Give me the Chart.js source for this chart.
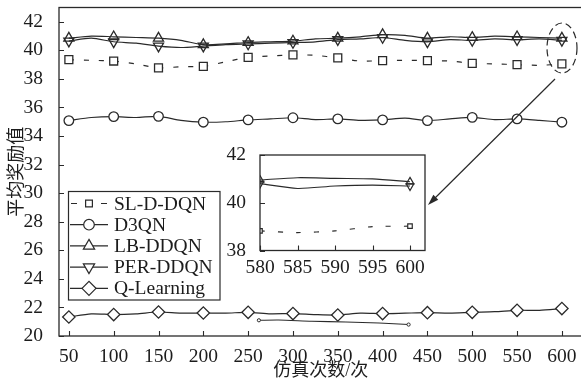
<!DOCTYPE html>
<html>
<head>
<meta charset="utf-8">
<script src="https://cdn.jsdelivr.net/npm/chart.js@4.4.1/dist/chart.umd.min.js"></script>
<style>
  html, body { margin: 0; padding: 0; background: #fff; overflow: hidden; }
  #wrap { position: relative; width: 581px; height: 389px; overflow: hidden; background: #fff; }
  #main { position: absolute; left: 0; top: 0; }
  #inset { position: absolute; left: 220px; top: 145px; }
</style>
</head>
<body>
<div id="wrap">
  <canvas id="main" width="590" height="389"></canvas>
  <canvas id="inset" width="215" height="135"></canvas>
</div>
<script>
// ---- data: average reward per simulation run ----
const xTicks = [50, 100, 150, 200, 250, 300, 350, 400, 450, 500, 550, 600];
const yTicks = [20, 22, 24, 26, 28, 30, 32, 34, 36, 38, 40, 42];
const runs = [50, 75, 100, 125, 150, 175, 200, 225, 250, 275, 300, 325, 350,
              375, 400, 425, 450, 475, 500, 525, 550, 575, 600];

const slddqn = [39.35, 39.3, 39.25, 39.05, 38.77, 38.85, 38.88, 39.2, 39.51, 39.6, 39.68, 39.65, 39.47,
                39.25, 39.28, 39.3, 39.28, 39.25, 39.09, 39.05, 39.0, 38.95, 39.05];
const d3qn = [35.08, 35.3, 35.36, 35.3, 35.38, 35.1, 34.97, 35.0, 35.13, 35.2, 35.28, 35.15, 35.2,
              35.1, 35.13, 35.25, 35.08, 35.2, 35.31, 35.15, 35.2, 35.1, 34.97];
const lbddqn = [40.85, 41.0, 40.95, 40.9, 40.85, 40.7, 40.4, 40.45, 40.55, 40.6, 40.65, 40.8, 40.85,
                40.95, 41.1, 41.05, 40.85, 40.95, 40.9, 41.0, 40.95, 40.9, 40.85];
const perddqn = [40.65, 40.85, 40.6, 40.5, 40.3, 40.2, 40.3, 40.4, 40.45, 40.5, 40.55, 40.6, 40.75,
                 40.8, 40.9, 40.7, 40.6, 40.75, 40.7, 40.8, 40.75, 40.8, 40.7];
const qlearning = [21.33, 21.55, 21.5, 21.55, 21.68, 21.6, 21.61, 21.6, 21.66, 21.55, 21.57, 21.5, 21.47,
                   21.6, 21.57, 21.6, 21.63, 21.6, 21.66, 21.7, 21.8, 21.8, 21.92];

// short unlabeled trace near the bottom
const traceRuns = [262, 284, 321, 359, 396, 429];
const traceVals = [21.1, 21.12, 21.03, 20.98, 20.91, 20.8];

// ---- zoomed view of runs 580-600 ----
const zoomXTicks = [580, 585, 590, 595, 600];
const zoomYTicks = [38, 40, 42];
const zoomRuns = [580, 585, 590, 595, 600];
const zoomSL = [38.82, 38.75, 38.82, 39.0, 39.02];
const zoomLB = [40.95, 41.05, 41.02, 41.0, 40.88];
const zoomPER = [40.8, 40.6, 40.7, 40.74, 40.7];

const FONT = "'Liberation Serif', 'Noto Sans CJK SC', serif";
const INK = '#2a2a2a';
const TXT = '#1c1c1c';

const pts = (xs, ys) => xs.map((x, i) => ({ x: x, y: ys[i] }));
const onEvery = (step, r) => (c) => (c.raw && c.raw.x % step === 0 ? r : 0);
const onEnds = (a, b, r) => (c) => (c.raw && (c.raw.x === a || c.raw.x === b) ? r : 0);

// frame + inward tick marks
const framePlugin = {
  id: 'frame',
  afterDatasetsDraw(chart, args, opts) {
    const { ctx, chartArea: a } = chart;
    const xs = chart.scales.x, ys = chart.scales.y;
    ctx.save();
    ctx.strokeStyle = INK;
    ctx.lineWidth = 1.3;
    ctx.setLineDash([]);
    ctx.strokeRect(a.left, a.top, a.right - a.left, a.bottom - a.top);
    ctx.lineWidth = 1.1;
    ctx.beginPath();
    xs.ticks.forEach(t => {
      const p = Math.round(xs.getPixelForValue(t.value)) + 0.5;
      ctx.moveTo(p, a.bottom);
      ctx.lineTo(p, a.bottom - opts.len);
    });
    ys.ticks.forEach(t => {
      const p = Math.round(ys.getPixelForValue(t.value)) + 0.5;
      ctx.moveTo(a.left, p);
      ctx.lineTo(a.left + opts.len, p);
    });
    ctx.stroke();
    ctx.restore();
  }
};

const whiteArea = {
  id: 'whiteArea',
  beforeDraw(chart) {
    const { ctx, chartArea: a } = chart;
    ctx.save();
    ctx.fillStyle = '#fff';
    ctx.fillRect(a.left, a.top, a.right - a.left, a.bottom - a.top);
    ctx.restore();
  }
};

// boxed legend with line sample and marker
const boxLegend = {
  id: 'boxLegend',
  afterDraw(chart) {
    const { ctx } = chart;
    const items = chart.data.datasets.filter(d => d.label);
    const bx = 68.5, by = 191.5, bw = 151.5, bh = 108.5;
    ctx.save();
    ctx.fillStyle = '#fff';
    ctx.fillRect(bx, by, bw, bh);
    ctx.strokeStyle = INK;
    ctx.lineWidth = 1.2;
    ctx.strokeRect(bx, by, bw, bh);
    items.forEach((d, i) => {
      const y = 203.5 + i * 21.2;
      ctx.strokeStyle = INK;
      ctx.lineWidth = 1.2;
      ctx.setLineDash([]);
      ctx.beginPath();
      if (d.borderDash && d.borderDash.length) {
        ctx.moveTo(71, y); ctx.lineTo(77, y);
        ctx.moveTo(101, y); ctx.lineTo(107, y);
      } else {
        ctx.moveTo(70, y); ctx.lineTo(108, y);
      }
      ctx.stroke();
      ctx.fillStyle = '#fff';
      ctx.strokeStyle = INK;
      Chart.helpers.drawPoint(ctx, {
        pointStyle: d.pointStyle,
        rotation: d.pointRotation || 0,
        radius: d.legendRadius,
        borderWidth: 1.3
      }, 89, y);
      ctx.fillStyle = TXT;
      ctx.font = '19.5px ' + FONT;
      ctx.textBaseline = 'middle';
      ctx.textAlign = 'left';
      ctx.fillText(d.label, 114, y + 1);
    });
    ctx.restore();
  }
};

// dashed ring around the last runs, and an arrow to the zoomed view
const calloutPlugin = {
  id: 'callout',
  afterDraw(chart) {
    const { ctx } = chart;
    ctx.save();
    ctx.strokeStyle = INK;
    ctx.lineWidth = 1.2;
    ctx.setLineDash([7, 4]);
    ctx.beginPath();
    ctx.ellipse(562, 48, 15, 25, 0, 0, Math.PI * 2);
    ctx.stroke();
    ctx.setLineDash([]);
    const x0 = 555, y0 = 79, x1 = 428, y1 = 205;
    const ang = Math.atan2(y1 - y0, x1 - x0);
    ctx.beginPath();
    ctx.moveTo(x0, y0);
    ctx.lineTo(x1 - Math.cos(ang) * 6, y1 - Math.sin(ang) * 6);
    ctx.stroke();
    ctx.fillStyle = INK;
    ctx.beginPath();
    ctx.moveTo(x1, y1);
    ctx.lineTo(x1 - Math.cos(ang) * 11 + Math.sin(ang) * 3.5, y1 - Math.sin(ang) * 11 - Math.cos(ang) * 3.5);
    ctx.lineTo(x1 - Math.cos(ang) * 11 - Math.sin(ang) * 3.5, y1 - Math.sin(ang) * 11 + Math.cos(ang) * 3.5);
    ctx.closePath();
    ctx.fill();
    ctx.restore();
  }
};

const lineBase = {
  borderColor: INK,
  borderWidth: 1.2,
  tension: 0.25,
  pointBorderColor: INK,
  pointBorderWidth: 1.3,
  pointHoverRadius: 0
};

new Chart(document.getElementById('main'), {
  type: 'line',
  data: {
    datasets: [
      Object.assign({}, lineBase, {
        label: 'SL-D-DQN', data: pts(runs, slddqn), borderDash: [5, 10],
        pointStyle: 'rect', pointRadius: onEvery(50, 5.6), pointBackgroundColor: '#fff', legendRadius: 4.8
      }),
      Object.assign({}, lineBase, {
        label: 'D3QN', data: pts(runs, d3qn),
        pointStyle: 'circle', pointRadius: onEvery(50, 4.8), pointBackgroundColor: '#fff', legendRadius: 5.3
      }),
      Object.assign({}, lineBase, {
        label: 'LB-DDQN', data: pts(runs, lbddqn),
        pointStyle: 'triangle', pointRadius: onEvery(50, 5.8), pointBackgroundColor: 'rgba(255,255,255,0)', legendRadius: 6.5
      }),
      Object.assign({}, lineBase, {
        label: 'PER-DDQN', data: pts(runs, perddqn),
        pointStyle: 'triangle', pointRotation: 180, pointRadius: onEvery(50, 5.8), pointBackgroundColor: 'rgba(255,255,255,0)', legendRadius: 6.5
      }),
      Object.assign({}, lineBase, {
        label: 'Q-Learning', data: pts(runs, qlearning),
        pointStyle: 'rectRot', pointRadius: onEvery(50, 6.2), pointBackgroundColor: '#fff', legendRadius: 7
      }),
      Object.assign({}, lineBase, {
        label: '', data: pts(traceRuns, traceVals), borderWidth: 1.1,
        pointStyle: 'circle', pointRadius: onEnds(262, 429, 1.6), pointBackgroundColor: '#fff', pointBorderWidth: 1
      })
    ]
  },
  options: {
    responsive: false,
    animation: false,
    events: [],
    layout: { padding: { top: 6, right: 5, left: 0, bottom: 0 } },
    plugins: { legend: { display: false }, tooltip: { enabled: false }, frame: { len: 5 } },
    scales: {
      x: {
        type: 'linear', min: 39, max: 623,
        grid: { display: false }, border: { display: false },
        afterBuildTicks: s => { s.ticks = xTicks.map(v => ({ value: v })); },
        afterFit: s => { s.height = 53; s.paddingLeft = 0; s.paddingRight = 0; },
        ticks: { autoSkip: false, maxRotation: 0, padding: 1, color: TXT, font: { family: FONT, size: 19.5 } },
        title: { display: true, text: '仿真次数/次', color: TXT, font: { family: FONT, size: 18 }, padding: { top: 0, bottom: 7 } }
      },
      y: {
        type: 'linear', min: 20, max: 43,
        grid: { display: false }, border: { display: false },
        afterBuildTicks: s => { s.ticks = yTicks.map(v => ({ value: v })); },
        afterFit: s => { s.width = 59; s.paddingTop = 0; s.paddingBottom = 0; },
        ticks: { padding: 8, color: TXT, font: { family: FONT, size: 19.5 } },
        title: { display: true, text: '平均奖励值', color: TXT, font: { family: FONT, size: 18 }, padding: { top: 6, bottom: 0 } }
      }
    }
  },
  plugins: [framePlugin, boxLegend, calloutPlugin]
});

new Chart(document.getElementById('inset'), {
  type: 'line',
  data: {
    datasets: [
      Object.assign({}, lineBase, {
        label: 'SL-D-DQN', data: pts(zoomRuns, zoomSL), borderDash: [5, 13], borderWidth: 1.1,
        pointStyle: 'rect', pointRadius: onEnds(580, 600, 3.2), pointBackgroundColor: '#fff', pointBorderWidth: 1.2
      }),
      Object.assign({}, lineBase, {
        label: 'LB-DDQN', data: pts(zoomRuns, zoomLB), borderWidth: 1.1,
        pointStyle: 'triangle', pointRadius: onEnds(580, 600, 4.4), pointBackgroundColor: 'rgba(255,255,255,0)', pointBorderWidth: 1.2
      }),
      Object.assign({}, lineBase, {
        label: 'PER-DDQN', data: pts(zoomRuns, zoomPER), borderWidth: 1.1,
        pointStyle: 'triangle', pointRotation: 180, pointRadius: onEnds(580, 600, 4.4), pointBackgroundColor: 'rgba(255,255,255,0)', pointBorderWidth: 1.2
      })
    ]
  },
  options: {
    responsive: false,
    animation: false,
    events: [],
    layout: { padding: { top: 10, right: 10, left: 0, bottom: 0 } },
    plugins: { legend: { display: false }, tooltip: { enabled: false }, frame: { len: 5 } },
    scales: {
      x: {
        type: 'linear', min: 580, max: 602,
        grid: { display: false }, border: { display: false },
        afterBuildTicks: s => { s.ticks = zoomXTicks.map(v => ({ value: v })); },
        afterFit: s => { s.height = 29.5; s.paddingLeft = 0; s.paddingRight = 0; },
        ticks: { autoSkip: false, maxRotation: 0, padding: -2, color: TXT, font: { family: FONT, size: 19.5 } }
      },
      y: {
        type: 'linear', min: 38, max: 42,
        grid: { display: false }, border: { display: false },
        afterBuildTicks: s => { s.ticks = zoomYTicks.map(v => ({ value: v })); },
        afterFit: s => { s.width = 40; s.paddingTop = 0; s.paddingBottom = 0; },
        ticks: { padding: 6, color: TXT, font: { family: FONT, size: 19.5 } }
      }
    }
  },
  plugins: [whiteArea, framePlugin]
});
</script>
</body>
</html>
